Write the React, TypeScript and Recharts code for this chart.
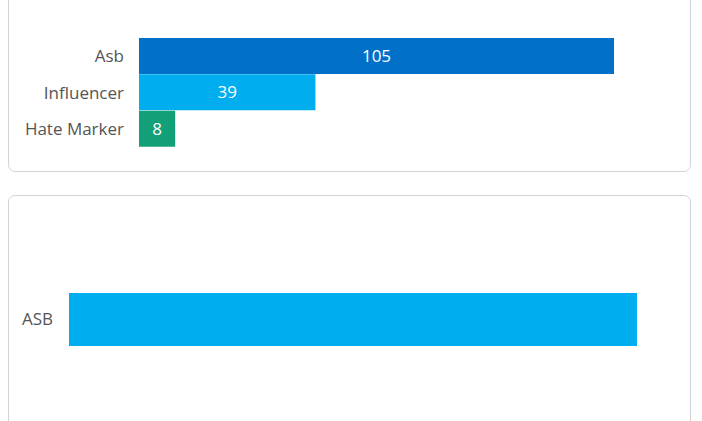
import { BarChart, Bar, XAxis, YAxis, Cell, LabelList } from "recharts";

// top card: counts per category
const topCategories = ["Asb", "Influencer", "Hate Marker"];
const topValues = [105, 39, 8];
const topColors = ["#0070c9", "#00adef", "#12a079"];

// bottom card: single category, no value label shown
const bottomCategories = ["ASB"];
const bottomValues = [105];
const bottomColor = "#00adef";

const topData = topCategories.map((name, i) => ({
  name,
  value: topValues[i],
  color: topColors[i],
}));
const bottomData = bottomCategories.map((name, i) => ({
  name,
  value: bottomValues[i],
}));

const font = "'Open Sans', sans-serif";
const tickStyle = { fill: "#555555", fontSize: 17, fontFamily: font };

const cardStyle: React.CSSProperties = {
  position: "absolute",
  left: 8,
  width: 683,
  border: "1.5px solid #d4d4d4",
  borderRadius: 7,
  background: "#fff",
  boxSizing: "border-box",
};

export default function App() {
  return (
    <div
      style={{
        position: "fixed",
        left: 0,
        top: 0,
        width: 702,
        height: 421,
        overflow: "hidden",
        background: "#fff",
        fontFamily: font,
      }}
    >
      <div style={{ ...cardStyle, top: -40, height: 212 }} />
      <div style={{ ...cardStyle, top: 195, height: 300 }} />

      <div style={{ position: "absolute", left: 0, top: 0 }}>
        <BarChart
          width={702}
          height={185}
          data={topData}
          layout="vertical"
          margin={{ top: 38, right: 88, bottom: 38, left: 0 }}
          barCategoryGap={0}
        >
          <XAxis type="number" hide domain={[0, "dataMax"]} />
          <YAxis
            type="category"
            dataKey="name"
            width={139}
            axisLine={false}
            tickLine={false}
            tickSize={0}
            tickMargin={15}
            tick={tickStyle}
          />
          <Bar dataKey="value" isAnimationActive={false}>
            {topData.map((d, i) => (
              <Cell key={i} fill={d.color} />
            ))}
            <LabelList
              dataKey="value"
              position="center"
              fill="#ffffff"
              style={{ fontSize: 17, fontFamily: font }}
            />
          </Bar>
        </BarChart>
      </div>

      <div style={{ position: "absolute", left: 0, top: 230 }}>
        <BarChart
          width={702}
          height={178}
          data={bottomData}
          layout="vertical"
          margin={{ top: 0, right: 65, bottom: 0, left: 0 }}
        >
          <XAxis type="number" hide domain={[0, "dataMax"]} />
          <YAxis
            type="category"
            dataKey="name"
            width={69}
            axisLine={false}
            tickLine={false}
            tickSize={0}
            tickMargin={16}
            tick={tickStyle}
          />
          <Bar
            dataKey="value"
            fill={bottomColor}
            barSize={53}
            isAnimationActive={false}
          />
        </BarChart>
      </div>
    </div>
  );
}
